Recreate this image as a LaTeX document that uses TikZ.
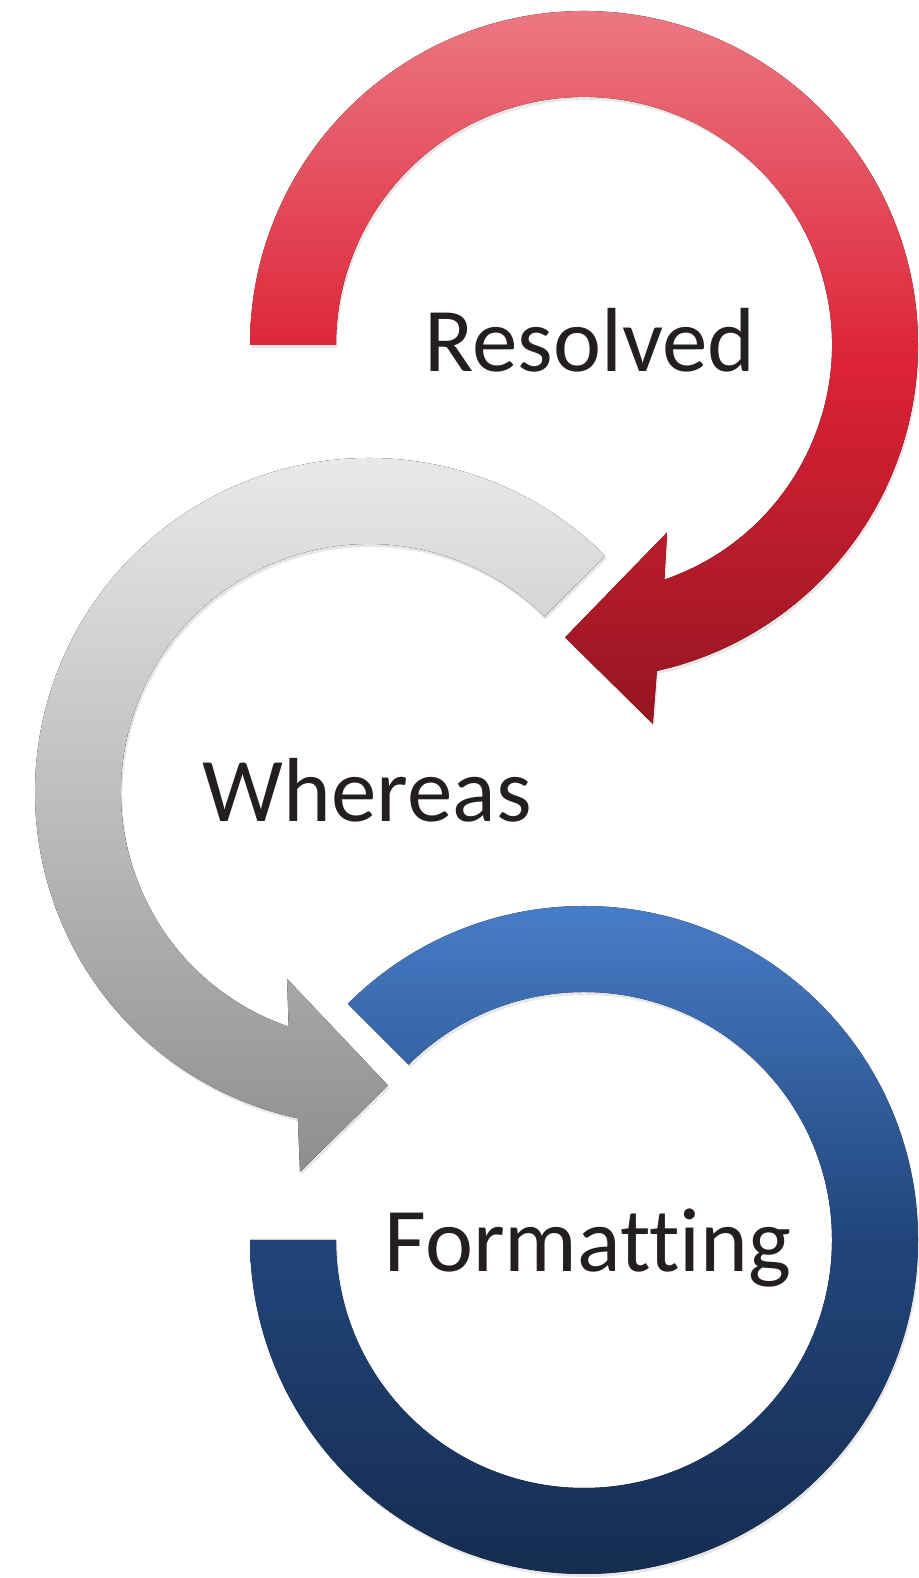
\documentclass[tikz,border=0pt]{standalone}
\usepackage{fontspec}
\setmainfont{Carlito}[Ligatures=NoCommon]
\usepackage{tikz}
\usetikzlibrary{calc,shadows}
\definecolor{redtop}{HTML}{EC7782}
\definecolor{redmid}{HTML}{DC2236}
\definecolor{redbot}{HTML}{941520}
\definecolor{graytop}{HTML}{EDEDED}
\definecolor{graybot}{HTML}{8E8E8E}
\definecolor{bluetop}{HTML}{4B82CF}
\definecolor{bluemid}{HTML}{21457A}
\definecolor{bluebot}{HTML}{152A4D}
\definecolor{textcol}{HTML}{231F20}
\begin{document}
\begin{tikzpicture}[x=1pt,y=1pt,
  ringshadow/.style={drop shadow={opacity=0.2,shadow xshift=1.5pt,shadow yshift=-3pt}},
  redarrow/.style={ringshadow,top color=redtop,bottom color=redbot,middle color=redmid},
  grayarrow/.style={ringshadow,top color=graytop,bottom color=graybot},
  bluearrow/.style={ringshadow,top color=bluetop,bottom color=bluebot,middle color=bluemid},
  ringtext/.style={font=\fontsize{91}{100}\selectfont,text=textcol,anchor=base,inner sep=0pt}]
\useasboundingbox (0,0) rectangle (918,1578);
\coordinate (redc) at (584,1233);
\coordinate (grayc) at (369,786);
\coordinate (bluec) at (584,338);

% blue ring, open at the left
\fill[bluearrow,shift={(bluec)}] (135:334) arc[start angle=135,end angle=-180,radius=334]
  -- (180:248) arc[start angle=-180,end angle=135,radius=248] -- cycle;

% gray arrow
\fill[grayarrow,shift={(grayc)}] (45:334) arc[start angle=45,end angle=257.7,radius=334]
  -- (259.7:386) -- (273.7:294) -- (246.3:204) -- (251.1:248)
  arc[start angle=251.1,end angle=45,radius=248] -- cycle;

% red arrow
\fill[redarrow,shift={(redc)}] (180:334) arc[start angle=180,end angle=-77.4,radius=334]
  -- (-79.7:385) -- (-93.7:293) -- (-66.1:205) -- (-71.1:248)
  arc[start angle=-71.1,end angle=180,radius=248] -- cycle;

\node[ringtext] (resolved) at (590,1206) {Resolved};
\node[ringtext] (whereas) at (367,756) {Whereas};
\node[ringtext] (formatting) at (588,306) {Formatting};
\end{tikzpicture}
\end{document}
